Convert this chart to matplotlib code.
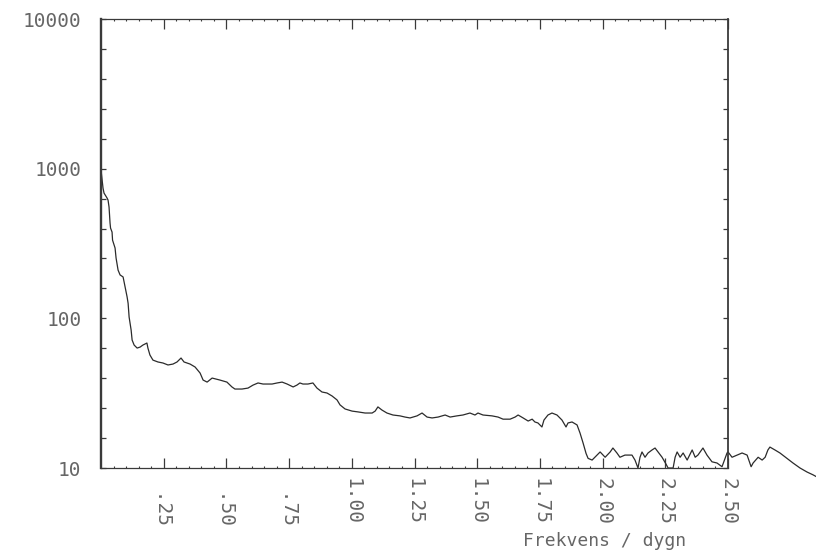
import numpy as np
import matplotlib
matplotlib.use("Agg")
import matplotlib.pyplot as plt

# spectrum: frequency (per day) and power
freq = [0.000, 0.008, 0.012, 0.024, 0.028, 0.032, 0.036, 0.038, 0.044, 0.046,
        0.056, 0.060, 0.068, 0.076, 0.088, 0.096, 0.104, 0.108, 0.112, 0.120,
        0.124, 0.132, 0.144, 0.156, 0.167, 0.183, 0.187, 0.195, 0.207, 0.227,
        0.247, 0.267, 0.287, 0.303, 0.319, 0.331, 0.355, 0.375, 0.395, 0.407,
        0.423, 0.443, 0.474, 0.502, 0.522, 0.534, 0.562, 0.586, 0.606, 0.626,
        0.646, 0.682, 0.702, 0.722, 0.742, 0.766, 0.781, 0.793, 0.805, 0.825,
        0.845, 0.861, 0.881, 0.901, 0.921, 0.941, 0.953, 0.973, 1.001, 1.025,
        1.053, 1.081, 1.093, 1.104, 1.120, 1.140, 1.164, 1.192, 1.212, 1.232,
        1.260, 1.280, 1.300, 1.320, 1.344, 1.372, 1.392, 1.419, 1.443, 1.471,
        1.491, 1.503, 1.523, 1.559, 1.583, 1.603, 1.631, 1.651, 1.663, 1.683,
        1.703, 1.719, 1.730, 1.742, 1.758, 1.766, 1.782, 1.798, 1.818, 1.838,
        1.854, 1.862, 1.878, 1.898, 1.910, 1.922, 1.934, 1.942, 1.958, 1.978,
        1.990, 2.010, 2.030, 2.041, 2.057, 2.069, 2.089, 2.117, 2.129, 2.141,
        2.149, 2.157, 2.169, 2.181, 2.197, 2.209, 2.221, 2.237, 2.253, 2.261,
        2.281, 2.289, 2.297, 2.309, 2.321, 2.337, 2.357, 2.369, 2.380, 2.400,
        2.416, 2.436, 2.456, 2.476, 2.496, 2.500, 2.516, 2.536, 2.556, 2.576,
        2.592, 2.600, 2.620, 2.636, 2.648, 2.659, 2.667, 2.687, 2.707, 2.735,
        2.759, 2.787, 2.815, 2.839, 2.855]
power = [979, 741, 687, 637, 617, 554, 433, 401, 377, 333,
         295, 253, 210, 195, 189, 162, 139, 126, 102, 83.6,
         71.6, 66.3, 63.3, 64.3, 66.3, 68.4, 63.3, 56.9, 52.6, 51.1,
         50.3, 48.8, 49.5, 51.1, 54.3, 51.1, 49.5, 47.3, 43.1, 38.7,
         37.5, 39.9, 38.7, 37.5, 34.8, 33.7, 33.7, 34.2, 35.8, 37.0,
         36.4, 36.4, 37.0, 37.5, 36.4, 34.8, 35.8, 37.0, 36.4, 36.4,
         37.0, 34.2, 32.2, 31.7, 30.3, 28.5, 26.4, 24.8, 24.0, 23.7,
         23.3, 23.3, 24.0, 25.6, 24.4, 23.3, 22.6, 22.3, 21.9, 21.6,
         22.3, 23.3, 21.9, 21.6, 21.9, 22.6, 21.9, 22.3, 22.6, 23.3,
         22.6, 23.3, 22.6, 22.3, 21.9, 21.2, 21.2, 21.9, 22.6, 21.6,
         20.6, 21.2, 20.3, 20.0, 18.8, 20.9, 22.6, 23.3, 22.6, 20.9,
         18.8, 20.0, 20.3, 19.4, 17.1, 14.7, 12.5, 11.6, 11.3, 12.2,
         12.8, 11.8, 12.8, 13.6, 12.6, 11.8, 12.2, 12.2, 11.3, 10.0,
         11.8, 12.8, 11.8, 12.6, 13.2, 13.6, 12.8, 11.8, 10.6, 10.0,
         10.0, 11.8, 12.8, 11.8, 12.6, 11.3, 13.2, 11.8, 12.2, 13.6,
         12.2, 11.0, 10.8, 10.2, 12.6, 12.8, 11.8, 12.2, 12.6, 12.2,
         10.2, 10.8, 11.8, 11.3, 11.8, 13.2, 13.8, 13.2, 12.6, 11.6,
         10.8, 10.0, 9.4, 9.0, 8.7]

xticks = [0.25, 0.50, 0.75, 1.00, 1.25, 1.50, 1.75, 2.00, 2.25, 2.50]
xtick_labels = [" .25", " .50", " .75", "1.00", "1.25", "1.50", "1.75",
                "2.00", "2.25", "2.50"]
yticks = [10, 100, 1000, 10000]
ytick_labels = ["10", "100", "1000", "10000"]

ink = "#3a3a3a"
text_col = "#666666"
mono = "DejaVu Sans Mono"

fig = plt.figure(figsize=(8.16, 5.53), dpi=100)
ax = fig.add_axes([0.1238, 0.1537, 0.7684, 0.8119])

ax.plot(freq, power, color="#2b2b2b", lw=0.9, clip_on=False)

ax.set_yscale("log")
ax.set_xlim(0, 2.5)
ax.set_ylim(10, 10000)

ax.set_xticks(xticks)
ax.set_xticklabels(xtick_labels, rotation=270, fontfamily=mono,
                   fontsize=14, color=text_col, va="top", ha="center")
ax.set_xticks(np.arange(0.05, 2.5, 0.05), minor=True)
ax.set_yticks(yticks)
ax.set_yticklabels(ytick_labels, fontfamily=mono, fontsize=14,
                   color=text_col)
ax.yaxis.set_minor_locator(matplotlib.ticker.FixedLocator(
    [10 ** (d + 0.2 * k) for d in range(1, 4) for k in range(1, 5)]))
ax.yaxis.set_minor_formatter(matplotlib.ticker.NullFormatter())

ax.tick_params(axis="x", which="major", direction="in", length=7,
               width=0.9, color=ink, top=True, pad=7)
ax.tick_params(axis="x", which="minor", direction="in", length=1.5,
               width=0.8, color=ink, top=True)
ax.tick_params(axis="y", which="both", direction="in", length=3.5,
               width=0.9, color=ink, right=True, pad=14)

for side, lw in [("left", 1.7), ("right", 1.3), ("top", 0.9), ("bottom", 0.9)]:
    ax.spines[side].set_linewidth(lw)
    ax.spines[side].set_color(ink)

fig.text(605 / 816, 1 - 541 / 553, "Frekvens / dygn", fontfamily=mono,
         fontsize=13, color=text_col, ha="center", va="center")

fig.savefig("out.png", dpi=100)
